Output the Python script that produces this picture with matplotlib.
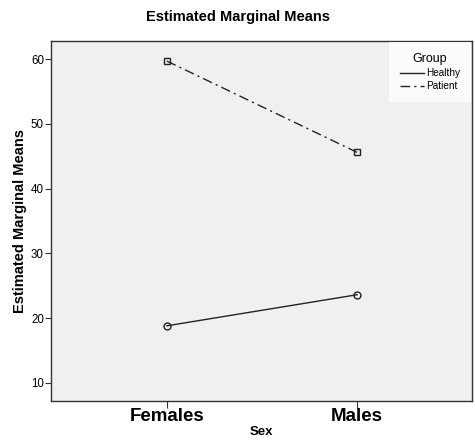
import matplotlib
matplotlib.use("Agg")
from matplotlib import pyplot as plt

plt.rcParams['font.family'] = ['Liberation Sans', 'DejaVu Sans']

sexes = ['Females', 'Males']
healthy = [18.8, 23.6]
patient = [59.7, 45.6]

fig = plt.figure(figsize=(4.75, 4.42), dpi=100)
ax = fig.add_axes([0.107, 0.093, 0.887, 0.815])
ax.set_facecolor('#f0f0f0')

x = list(range(len(sexes)))
ax.plot(x, healthy, color='#222222', lw=1.0, marker='o', ms=5,
        mfc='none', mec='#222222', mew=1.0, label='Healthy')
ax.plot(x, patient, color='#222222', lw=1.0, marker='s', ms=5,
        mfc='none', mec='#222222', mew=1.0, dashes=(7, 3, 1.5, 3),
        label='Patient')

ax.set_xlim(-0.61, 1.605)
ax.set_ylim(7.2, 62.85)
ax.set_xticks(x)
ax.set_xticklabels(sexes, fontsize=13.5, fontweight='bold')
ax.set_yticks([10, 20, 30, 40, 50, 60])
ax.tick_params(axis='y', labelsize=8.3, length=4, width=0.8, pad=1, colors='#333333')
ax.tick_params(axis='x', length=5, width=0.8, pad=0, colors='#333333')
for lab in ax.get_xticklabels():
    lab.set_color('black')
for lab in ax.get_yticklabels():
    lab.set_color('black')

for sp in ax.spines.values():
    sp.set_color('#333333')
    sp.set_linewidth(1.0)

ax.set_xlabel('Sex', fontsize=9.5, fontweight='bold', labelpad=1)
ax.set_ylabel('Estimated Marginal Means', fontsize=10.5, fontweight='bold', labelpad=3)
fig.suptitle('Estimated Marginal Means', fontsize=10.5, fontweight='bold', y=0.978)

leg = ax.legend(title='Group', loc='upper right', fontsize=7.2, title_fontsize=9,
                frameon=True, fancybox=False, borderaxespad=0.15, handlelength=2.4,
                handletextpad=0.2, labelspacing=0.3, borderpad=1.1)
leg.get_frame().set_facecolor('white')
leg.get_frame().set_edgecolor('none')
for h in leg.legend_handles:
    h.set_marker('')

fig.savefig('out.png', dpi=100)
